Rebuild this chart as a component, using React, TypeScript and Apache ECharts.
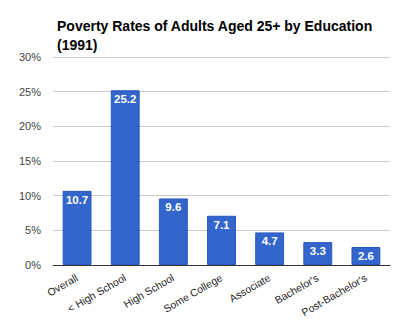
import React, { useEffect, useRef } from "react";
import * as echarts from "echarts";

const categories = ["Overall", "< High School", "High School", "Some College", "Associate", "Bachelor's", "Post-Bachelor's"];
const values = [10.7, 25.2, 9.6, 7.1, 4.7, 3.3, 2.6];
const yTicks = [0, 5, 10, 15, 20, 25, 30];

const FONT = "'Liberation Sans', Arial, sans-serif";

export default function App() {
  const ref = useRef<HTMLDivElement>(null);
  useEffect(() => {
    const chart = echarts.init(ref.current!, null, { renderer: "svg" });
    chart.setOption({
      animation: false,
      title: {
        text: "Poverty Rates of Adults Aged 25+ by Education\n(1991)",
        left: 52,
        top: 11,
        textStyle: { fontFamily: FONT, fontWeight: "bold", fontSize: 14, color: "#000", lineHeight: 19 },
      },
      grid: { left: 53, right: 10, top: 57, bottom: 59, containLabel: false },
      xAxis: {
        type: "category",
        data: categories,
        axisTick: { show: false },
        axisLine: { lineStyle: { color: "#333", width: 1 } },
        axisLabel: { rotate: 30, fontSize: 10.5, color: "#222", fontFamily: FONT, margin: 12, interval: 0 },
      },
      yAxis: {
        type: "value",
        min: yTicks[0],
        max: yTicks[yTicks.length - 1],
        interval: 5,
        axisLabel: { formatter: "{value}%", fontSize: 11, color: "#444", fontFamily: FONT, margin: 12 },
        splitLine: { lineStyle: { color: "#ccc" } },
        axisLine: { show: false },
        axisTick: { show: false },
      },
      series: [
        {
          type: "bar",
          data: values,
          barWidth: "60%",
          itemStyle: { color: "#3366cc", borderColor: "#2a58c0", borderWidth: 1 },
          label: {
            show: true,
            position: "insideTop",
            distance: 3,
            color: "#fff",
            fontWeight: "bold",
            fontSize: 11.5,
            fontFamily: FONT,
          },
        },
      ],
    });
    return () => chart.dispose();
  }, []);
  return <div ref={ref} style={{ width: 400, height: 324, position: "absolute", left: 0, top: 0 }} />;
}
